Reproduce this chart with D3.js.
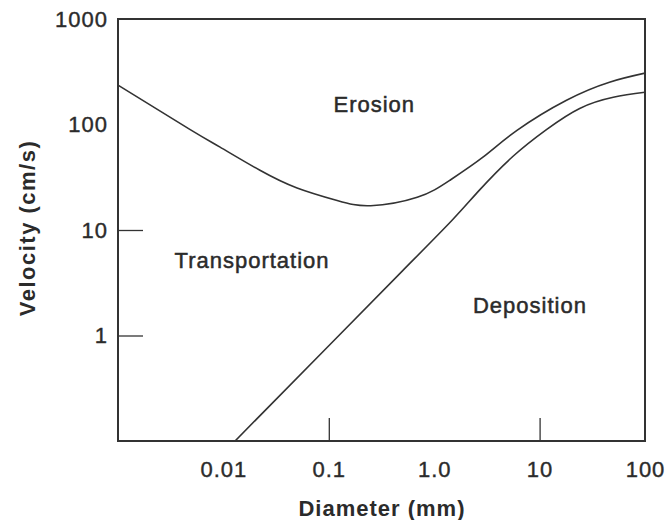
<!DOCTYPE html>
<html>
<head>
    <meta charset="utf-8">
    <style>
        body { margin: 0; background: #fff; }
        text { font-family: 'Liberation Sans', Arial, sans-serif; fill: #2b2b2b; }
    </style>
</head>
<body>
<script src="https://d3js.org/d3.v7.min.js"></script>
<script>
    // values (diameter in mm, velocity in cm/s)
    var erosionDiameter = [0.001, 0.0048, 0.0093, 0.022, 0.05, 0.12, 0.25, 0.69, 1.4, 2.9, 6.1, 18, 46, 100];
    var erosionVelocity = [236, 90, 61, 37, 25, 19, 17, 20.4, 29.5, 49, 88, 170, 252, 307];
    var depositionDiameter = [0.0129, 0.1, 0.5, 1.47, 2.7, 5.6, 11.7, 24, 50, 100];
    var depositionVelocity = [0.1, 0.8, 4.1, 12.3, 24, 50, 90, 142, 181, 202];
    var xTickLabels = [0.01, 0.1, 1, 10, 100];
    var xTickMarks = [0.1, 10];
    var yTickLabels = [1, 10, 100, 1000];
    var yTickMarks = [1, 10];
    var regions = ['Erosion', 'Transportation', 'Deposition'];
    var regionAt = [[0.27, 131], [0.0187, 4.4], [8.1, 1.63]];

    var plot = { left: 118, right: 645, top: 19, bottom: 441 };
    var ink = '#333';

    var svg = d3.select('body').append('svg')
        .attr('width', 667)
        .attr('height', 520);

    var x = d3.scaleLog().domain([0.001, 100]).range([plot.left, plot.right]);
    var y = d3.scaleLog().domain([0.1, 1000]).range([plot.bottom, plot.top]);

    svg.append('clipPath').attr('id', 'clip')
        .append('rect')
        .attr('x', plot.left).attr('y', plot.top)
        .attr('width', plot.right - plot.left)
        .attr('height', plot.bottom - plot.top);

    var line = d3.line()
        .x(function (d) { return x(d[0]); })
        .y(function (d) { return y(d[1]); })
        .curve(d3.curveNatural);

    var curves = [
        d3.zip(erosionDiameter, erosionVelocity),
        d3.zip(depositionDiameter, depositionVelocity)
    ];

    svg.append('g').attr('clip-path', 'url(#clip)')
        .selectAll('path').data(curves).enter()
        .append('path')
        .attr('d', line)
        .attr('fill', 'none')
        .attr('stroke', ink)
        .attr('stroke-width', 1.6);

    // frame
    svg.append('rect')
        .attr('x', plot.left).attr('y', plot.top)
        .attr('width', plot.right - plot.left)
        .attr('height', plot.bottom - plot.top)
        .attr('fill', 'none')
        .attr('stroke', ink)
        .attr('stroke-width', 2);

    // tick marks (inside) and tick labels
    var xMarks = svg.append('g')
        .attr('transform', 'translate(0,' + plot.bottom + ')')
        .call(d3.axisBottom(x).tickValues(xTickMarks).tickSizeInner(-23).tickSizeOuter(0).tickFormat(''));
    var yMarks = svg.append('g')
        .attr('transform', 'translate(' + plot.left + ',0)')
        .call(d3.axisLeft(y).tickValues(yTickMarks).tickSizeInner(-25).tickSizeOuter(0).tickFormat(''));
    [xMarks, yMarks].forEach(function (g) {
        g.select('.domain').remove();
        g.selectAll('line').attr('stroke', ink).attr('stroke-width', 1.3);
    });

    var xLabels = svg.append('g')
        .attr('transform', 'translate(0,' + plot.bottom + ')')
        .call(d3.axisBottom(x).tickValues(xTickLabels).tickSize(0).tickPadding(20)
            .tickFormat(function (d) { return d === 1 ? '1.0' : String(d); }));
    var yLabels = svg.append('g')
        .attr('transform', 'translate(' + plot.left + ',0)')
        .call(d3.axisLeft(y).tickValues(yTickLabels).tickSize(0).tickPadding(10)
            .tickFormat(function (d) { return String(d); }));
    [xLabels, yLabels].forEach(function (g) {
        g.select('.domain').remove();
        g.selectAll('text')
            .attr('font-family', null)
            .style('font-size', '22px')
            .style('letter-spacing', '1px')
            .attr('fill', '#2b2b2b')
            .attr('stroke', '#2b2b2b')
            .attr('stroke-width', 0.4);
    });

    // region names
    svg.selectAll('text.region').data(regions).enter()
        .append('text')
        .attr('class', 'region')
        .attr('x', function (d, i) { return x(regionAt[i][0]); })
        .attr('y', function (d, i) { return y(regionAt[i][1]); })
        .attr('text-anchor', 'middle')
        .attr('stroke', '#2b2b2b')
        .attr('stroke-width', 0.5)
        .style('font-size', '22px')
        .style('letter-spacing', '1px')
        .text(function (d) { return d; });

    // axis titles
    svg.append('text')
        .attr('x', 382).attr('y', 516)
        .attr('text-anchor', 'middle')
        .style('font-size', '22px')
        .style('font-weight', 'bold')
        .style('letter-spacing', '1px')
        .text('Diameter (mm)');

    svg.append('text')
        .attr('transform', 'translate(35,228) rotate(-90)')
        .attr('text-anchor', 'middle')
        .style('font-size', '22px')
        .style('font-weight', 'bold')
        .style('letter-spacing', '1.5px')
        .text('Velocity (cm/s)');
</script>
</body>
</html>
